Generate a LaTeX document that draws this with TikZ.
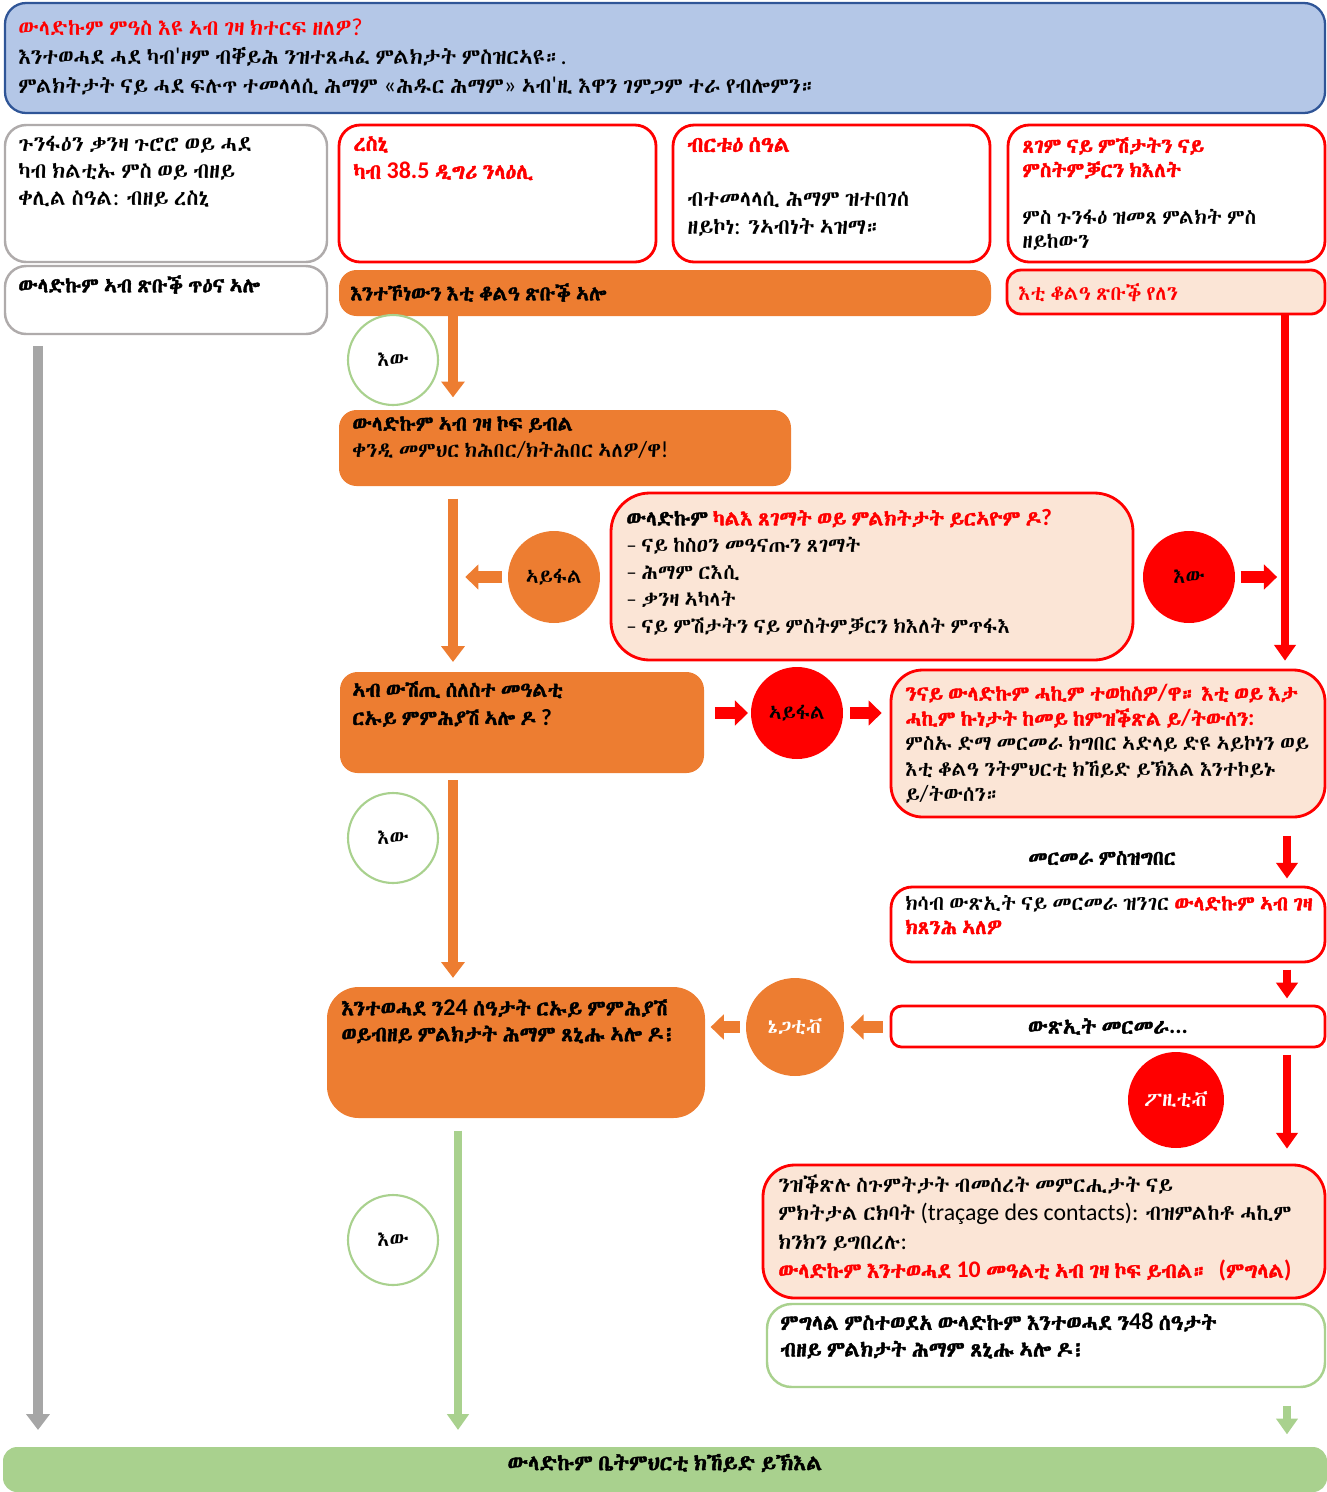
\documentclass[tikz,border=0pt]{standalone}
\usepackage{fontspec}
\setmainfont{Carlito}
\newcommand\tryeth[2]{\IfFontExistsTF{#1}{\newfontfamily\ethfont{#1}[BoldFont={#1}, BoldFeatures={FakeBold=2}]}{#2}}
\tryeth{Abyssinica SIL}{\tryeth{Ethiopia Jiret}{\tryeth{GF Zemen Unicode}{\tryeth{Code2000}{\tryeth{Unifont}{\tryeth{Noto Sans Ethiopic}{\newfontfamily\ethfont{Carlito}}}}}}}
\newfontfamily\latfont{Carlito}[Scale=1.12]
% switch to the Ethiopic font for Ethiopic letters
\XeTeXinterchartokenstate=1
\newXeTeXintercharclass\ethclass
\count255="1200
\loop\ifnum\count255<"13A0
  \XeTeXcharclass\count255=\ethclass
  \advance\count255 by 1
\repeat
\XeTeXinterchartoks 0 \ethclass={\ethfont}
\XeTeXinterchartoks 4095 \ethclass={\ethfont}
\XeTeXinterchartoks \ethclass 0={\latfont}
\XeTeXinterchartoks \ethclass 4095={\latfont}
\usepackage{tikz}
\usetikzlibrary{positioning}
\usetikzlibrary{arrows.meta}
\usetikzlibrary{fit}
\definecolor{orng}{HTML}{ED7D31}
\definecolor{ltred}{HTML}{FBE5D6}
\definecolor{grn}{HTML}{A9D18E}
\definecolor{gry}{HTML}{A6A6A6}
\definecolor{boxgray}{HTML}{AFABAB}
\definecolor{bluef}{HTML}{B4C7E7}
\definecolor{blued}{HTML}{2F5597}
\tikzset{
  graybox/.style={draw=boxgray, line width=1.4pt, rounded corners=12pt, fill=white, inner sep=0pt},
  redbox/.style={draw=red, line width=1.6pt, rounded corners=12pt, fill=white, inner sep=0pt},
  pinkbox/.style={redbox, fill=ltred},
  orbox/.style={fill=orng, rounded corners=10pt, inner sep=0pt},
  grbox/.style={draw=grn, line width=1.4pt, rounded corners=10pt, fill=white, inner sep=0pt},
  txt/.style={anchor=north west, inner sep=0pt, align=left},
  sz/.style 2 args={font=\fontsize{#1}{#2}\selectfont},
  bsz/.style 2 args={font=\bfseries\fontsize{#1}{#2}\selectfont},
  yesdot/.style={circle, draw=grn, line width=1.2pt, fill=white, minimum size=1.8cm, inner sep=0pt},
  bigdot/.style={circle, minimum size=1.84cm, inner sep=0pt},
  orarrow/.style={draw=orng, line width=5.5pt, -{Triangle[width=13pt,length=9pt]}},
  grarrow/.style={draw=grn, line width=5pt, -{Triangle[width=12pt,length=9pt]}},
  gyarrow/.style={draw=gry, line width=5.5pt, -{Triangle[width=13pt,length=9pt]}},
  redarrow/.style={draw=red, line width=4pt, -{Triangle[width=12pt,length=9pt]}},
  redblock/.style={draw=red, line width=6.5pt, -{Triangle[width=14pt,length=7.5pt]}},
  orblock/.style={draw=orng, line width=6.5pt, -{Triangle[width=14pt,length=7.5pt]}},
}
\begin{document}
\begin{tikzpicture}[x=0.02cm, y=-0.02cm, font=\fontsize{11.6}{15}\selectfont]
    \useasboundingbox (0,0) rectangle (1327,1492);
    % header
    \node[draw=blued, line width=1.3pt, fill=bluef, rounded corners=12pt, inner sep=0pt, fit={(5,3) (1325,113)}] (head) {};
    \node[txt, sz={12.4}{16.6}] (headt) at (18,18) {\textcolor{red}{ውላድኩም ምዓስ እዩ ኣብ ገዛ ክተርፍ ዘለዎ?}\\
      እንተወሓደ ሓደ ካብ'ዞም ብቐይሕ ንዝተጸሓፈ ምልክታት ምስዝርኣዩ።.\\
      ምልክትታት ናይ ሓደ ፍሉጥ ተመላላሲ ሕማም «ሕዱር ሕማም» ኣብ'ዚ እዋን ገምጋም ተራ የብሎምን።};
    % first row
    \node[graybox, fit={(5,125) (327,262)}] (A) {};
    \node[txt, sz={12.4}{15.2}] (At) at (18,136) {ጉንፋዕን ቃንዛ ጉሮሮ ወይ ሓደ\\ካብ ክልቲኡ ምስ ወይ ብዘይ\\ቀሊል ስዓል: ብዘይ ረስኒ};
    \node[redbox, fit={(339,125) (656,262)}] (B) {};
    \node[txt, text=red, bsz={12.2}{16}] (Bt) at (353,136) {ረስኒ\\ካብ 38.5 ዲግሪ ንላዕሊ};
    \node[redbox, fit={(673,125) (990,262)}] (C) {};
    \node[txt, sz={12.5}{16}] (Ct) at (687,137) {\textcolor{red}{\textbf{ብርቱዕ ሰዓል}}\\[15pt]ብተመላላሲ ሕማም ዝተበገሰ\\ዘይኮነ: ንኣብነት ኣዝማ።};
    \node[redbox, fit={(1008,125) (1325,262)}] (D) {};
    \node[txt, sz={11.8}{13.8}] (Dt) at (1022,137) {\textcolor{red}{\textbf{ጸገም ናይ ምሽታትን ናይ}}\\\textcolor{red}{\textbf{ምስትምቓርን ክእለት}}\\[13pt]ምስ ጉንፋዕ ዝመጸ ምልክት ምስ\\ዘይከውን};
    % second row
    \node[graybox, fit={(5,266) (327,334)}] (E) {};
    \node[txt, bsz={11.7}{15}] (Et) at (18,275) {ውላድኩም ኣብ ጽቡቕ ጥዕና ኣሎ};
    \node[orbox, fit={(339,270) (991,316)}] (F) {};
    \node[txt, bsz={11.7}{15}] (Ft) at (350,283) {እንተኾነውን እቲ ቆልዓ ጽቡቕ ኣሎ};
    \node[pinkbox, fit={(1007,270) (1325,314)}, rounded corners=8pt] (G) {};
    \node[txt, text=red] (Gt) at (1018,283) {እቲ ቆልዓ ጽቡቕ የለን};
    % middle
    \node[orbox, fit={(339,410) (791,486)}] (H) {};
    \node[txt, sz={11.8}{15.2}] (Ht) at (352,416) {\textbf{ውላድኩም ኣብ ገዛ ኮፍ ይብል}\\ቀንዲ መምህር ክሕበር/ክትሕበር ኣለዎ/ዋ!};
    \node[pinkbox, rounded corners=22pt, fit={(611,493) (1133,660)}] (I) {};
    \node[txt, sz={11.9}{15.3}] (It) at (626,509) {\textbf{ውላድኩም} \textcolor{red}{\textbf{ካልእ ጸገማት ወይ ምልክትታት ይርኣዮም ዶ?}}\\
      – ናይ ከስዐን መዓናጡን ጸገማት\\– ሕማም ርእሲ\\– ቃንዛ ኣካላት\\– ናይ ምሽታትን ናይ ምስትምቓርን ክእለት ምጥፋእ};
    \node[orbox, fit={(340,672) (704,773)}] (J) {};
    \node[txt, bsz={11.8}{16}] (Jt) at (352,681) {ኣብ ውሽጢ ሰለስተ መዓልቲ\\ርኡይ ምምሕያሽ ኣሎ ዶ ?};
    \node[pinkbox, rounded corners=18pt, fit={(891,670) (1325,817)}] (K) {};
    \node[txt, sz={11.8}{14.3}] (Kt) at (905,684) {\textcolor{red}{\textbf{ንናይ ውላድኩም ሓኪም ተወከስዎ/ዋ። እቲ ወይ እታ}}\\
      \textcolor{red}{\textbf{ሓኪም ኩነታት ከመይ ከምዝቕጽል ይ/ትውሰን:}}\\
      ምስኡ ድማ መርመራ ክግበር ኣድላይ ድዩ ኣይኮነን ወይ\\እቲ ቆልዓ ንትምህርቲ ክኸይድ ይኽእል እንተኮይኑ\\ይ/ትውሰን።};
    \node[bsz={11.6}{14}] (lab) at (1102,858) {መርመራ ምስዝግበር};
    \node[redbox, fit={(891,887) (1325,962)}] (L) {};
    \node[txt, sz={11.7}{13.5}] (Lt) at (905,895) {ክሳብ ውጽኢት ናይ መርመራ ዝንገር \textcolor{red}{\textbf{ውላድኩም ኣብ ገዛ}}\\\textcolor{red}{\textbf{ክጸንሕ ኣለዎ}}};
    \node[redbox, rounded corners=6pt, fit={(891,1006) (1325,1047)}] (M) {};
    \node[bsz={12}{14}] (Mt) at (M.center) {ውጽኢት መርመራ...};
    \node[orbox, rounded corners=18pt, fit={(327,987) (705,1118)}] (N) {};
    \node[txt, bsz={12.2}{14.8}] (Nt) at (341,999) {እንተወሓደ ን24 ሰዓታት ርኡይ ምምሕያሽ\\ወይብዘይ ምልክታት ሕማም ጸኒሑ ኣሎ ዶ፧};
    \node[pinkbox, rounded corners=18pt, fit={(763,1165) (1325,1298)}] (O) {};
    \node[txt, sz={12.1}{16.3}] (Ot) at (778,1174) {ንዝቕጽሉ ስጉምትታት ብመሰረት መምርሒታት ናይ\\
      ምክትታል ርክባት (traçage des contacts): ብዝምልከቶ ሓኪም\\ክንክን ይግበረሉ:\\
      \textcolor{red}{\textbf{ውላድኩም እንተወሓደ 10 መዓልቲ ኣብ ገዛ ኮፍ ይብል።~~(ምግላል)}}};
    \node[grbox, rounded corners=14pt, fit={(767,1304) (1325,1387)}] (P) {};
    \node[txt, bsz={12.2}{15.2}] (Pt) at (780,1313) {ምግላል ምስተወደአ ውላድኩም እንተወሓደ ን48 ሰዓታት\\ብዘይ ምልክታት ሕማም ጸኒሑ ኣሎ ዶ፧};
    % bottom bar
    \node[fill=grn, rounded corners=8pt, inner sep=0pt, fit={(3,1447) (1327,1492)}] (bar) {};
    \node[bsz={12.4}{15}] (bart) at (665,1463) {ውላድኩም ቤትምህርቲ ክኸይድ ይኽእል};
    % circles
    \node[yesdot] (yes1) at (393,360) {እው};
    \node[yesdot] (yes2) at (393,838) {እው};
    \node[yesdot] (yes3) at (393,1240) {እው};
    \node[bigdot, fill=orng] (no1) at (554,577) {ኣይፋል};
    \node[bigdot, fill=red] (yes4) at (1189,577) {እው};
    \node[bigdot, fill=red] (no2) at (797,713) {ኣይፋል};
    \node[bigdot, fill=orng, text=white, minimum size=1.96cm] (neg) at (795,1027) {ኔጋቲቭ};
    \node[bigdot, fill=red, text=white, minimum size=1.92cm] (pos) at (1176,1100) {ፖዚቲቭ};
    % columns of the long arrows
    \coordinate (colG) at (38,0);
    \coordinate (colO) at (453,0);
    \coordinate (colR) at (1285,0);
    \coordinate (colS) at (1287,0);
    \coordinate (colN) at (458,0);
    % arrows
    \draw[gyarrow, shorten <=6pt, shorten >=9.5pt] (E.south -| colG) -- (bar.north -| colG);
    \draw[orarrow, shorten >=7pt] (F.south -| colO) -- (H.north -| colO);
    \draw[orarrow, shorten <=7pt, shorten >=5.5pt] (H.south -| colO) -- (J.north -| colO);
    \draw[orblock, shorten <=3pt, shorten >=7pt] (no1) -- (colO |- no1);
    \draw[redblock, shorten <=3pt, shorten >=4.5pt] (yes4) -- (colR |- yes4);
    \draw[redarrow, shorten >=4.5pt] (G.south -| colR) -- (K.north -| colR);
    \draw[redblock, shorten <=6pt, shorten >=1.5pt] (J.east |- no2) -- (no2);
    \draw[redblock, shorten <=4pt, shorten >=4.5pt] (no2) -- (K.west |- no2);
    \draw[redarrow, shorten <=10pt, shorten >=4pt] (K.south -| colS) -- (L.north -| colS);
    \draw[redarrow, shorten <=3.5pt, shorten >=3.5pt] (L.south -| colS) -- (M.north -| colS);
    \draw[orblock, shorten <=4pt, shorten >=3.5pt] (M.west |- neg) -- (neg);
    \draw[orblock, shorten <=3.5pt, shorten >=3pt] (neg) -- (N.east |- neg);
    \draw[orarrow, shorten <=4pt, shorten >=5pt] (J.south -| colO) -- (N.north -| colO);
    \draw[redarrow, shorten <=3.5pt, shorten >=8.5pt] (M.south -| colS) -- (O.north -| colS);
    \draw[grarrow, shorten <=7pt, shorten >=9.5pt] (N.south -| colN) -- (bar.north -| colN);
    \draw[grarrow, shorten <=10pt, shorten >=7pt] (P.south -| colS) -- (bar.north -| colS);
\end{tikzpicture}
\end{document}
